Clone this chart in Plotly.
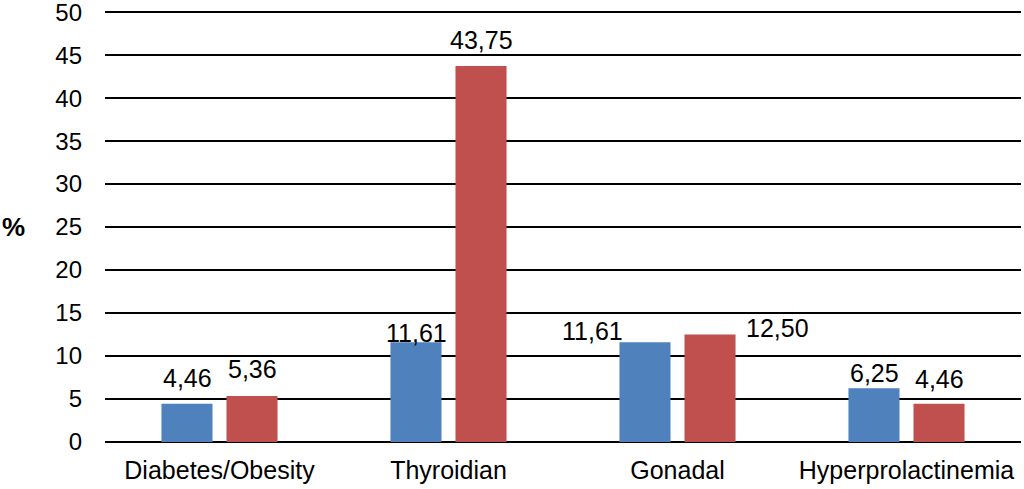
import plotly.graph_objects as go

categories = ["Diabetes/Obesity", "Thyroidian", "Gonadal", "Hyperprolactinemia"]
series_a = [4.46, 11.61, 11.61, 6.25]
series_b = [5.36, 43.75, 12.50, 4.46]
y_ticks = [0, 5, 10, 15, 20, 25, 30, 35, 40, 45, 50]

# label placement (pixel shifts) - style only
a_xshift = [-32.5, -32.5, -85, -32.5]
a_yshift = [26, 9, 11, 15]
b_xshift = [32.5, 32.5, 100, 32.5]
b_yshift = [27, 26, 7, 25]

blue = "#4F81BD"
red = "#C0504D"
font = "Liberation Sans, Arial, sans-serif"

def fmt(v):
    return f"{v:.2f}".replace(".", ",")

fig = go.Figure()
fig.add_trace(go.Bar(x=categories, y=series_a, marker_color=blue, marker_line_width=0, name="A"))
fig.add_trace(go.Bar(x=categories, y=series_b, marker_color=red, marker_line_width=0, name="B"))

annotations = []
for i, c in enumerate(categories):
    annotations.append(dict(x=c, y=series_a[i], text=fmt(series_a[i]), showarrow=False,
                            xshift=a_xshift[i], yshift=a_yshift[i], yanchor="middle",
                            font=dict(size=25, color="black", family=font)))
    annotations.append(dict(x=c, y=series_b[i], text=fmt(series_b[i]), showarrow=False,
                            xshift=b_xshift[i], yshift=b_yshift[i], yanchor="middle",
                            font=dict(size=25, color="black", family=font)))
annotations.append(dict(xref="paper", yref="y", x=-0.0995, y=25, text="<b>%</b>",
                        showarrow=False, xanchor="center", yanchor="middle",
                        font=dict(size=26, color="black", family=font)))

fig.update_layout(
    width=1024, height=489,
    margin=dict(l=105, r=3, t=10, b=47, autoexpand=False),
    paper_bgcolor="white", plot_bgcolor="white",
    barmode="group", bargap=0.432, bargroupgap=0.215,
    showlegend=False,
    font=dict(family=font, size=24, color="black"),
    annotations=annotations,
    xaxis=dict(showgrid=False, showline=False, ticks="", tickfont=dict(size=25),
               ticklabelstandoff=11, automargin=False),
    yaxis=dict(range=[0, 50.25], tickvals=y_ticks, showgrid=True, gridcolor="black",
               gridwidth=1.5, zeroline=True, zerolinecolor="black", zerolinewidth=1.5,
               showline=False, ticks="", tickfont=dict(size=24), ticklabelstandoff=22,
               ticklabeloverflow="allow", automargin=False),
)

fig.write_html("out.html", config={"displayModeBar": False},
               post_script="document.body.style.margin='0';")
